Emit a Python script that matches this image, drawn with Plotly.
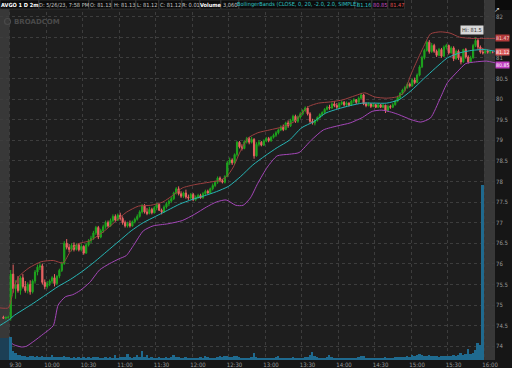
import plotly.graph_objects as go

# ---------------- data ----------------
tick_minutes = [0, 30, 60, 90, 120, 150, 180, 210, 240, 270, 300, 330, 360, 390]
time_labels = ["9:30", "10:00", "10:30", "11:00", "11:30", "12:00", "12:30",
               "13:00", "13:30", "14:00", "14:30", "15:00", "15:30", "16:00"]
price_ticks = [74, 74.5, 75, 75.5, 76, 76.5, 77, 77.5, 78, 78.5, 79, 79.5, 80, 80.5, 81, 81.5, 82]
# 81.5 label is hidden under the price tag in the original
price_tick_text = ["74", "74.5", "75", "75.5", "76", "76.5", "77", "77.5", "78", "78.5",
                   "79", "79.5", "80", "80.5", "81", "", "82"]

# regular-session 2-minute candles (9:30 .. 15:58), minutes since 9:30 = candle start
bar_minutes = list(range(0, 390, 2))
opens = [
    74.70, 75.75, 75.40, 75.50, 75.35, 75.66, 75.45, 75.35, 75.50, 75.32, 75.58, 75.80, 75.92, 75.95, 75.55,
    75.45, 75.52, 75.58, 75.66, 75.52, 75.70, 75.84, 76.00, 76.50, 76.40, 76.35, 76.45, 76.35, 76.46, 76.34,
    76.42, 76.26, 76.46, 76.56, 76.62, 76.75, 76.88, 76.65, 76.80, 76.90, 77.00, 76.92, 77.05, 77.15, 77.06,
    77.18, 77.10, 77.00, 76.92, 76.98, 76.92, 77.02, 77.08, 77.15, 77.26, 77.40, 77.26, 77.22, 77.32, 77.24,
    77.36, 77.44, 77.30, 77.26, 77.38, 77.46, 77.52, 77.58, 77.72, 77.82, 77.70, 77.64, 77.72, 77.62, 77.60,
    77.68, 77.56, 77.62, 77.66, 77.60, 77.70, 77.76, 77.72, 77.82, 77.90, 77.98, 78.08, 78.02, 77.98, 78.12,
    78.45, 78.52, 78.45, 78.65, 78.95, 78.84, 78.80, 78.96, 79.04, 78.95, 79.02, 78.62, 78.90, 78.95, 78.88,
    78.98, 79.04, 78.99, 79.07, 79.12, 79.18, 79.25, 79.32, 79.26, 79.42, 79.35, 79.48, 79.58, 79.46, 79.56,
    79.64, 79.72, 79.78, 79.64, 79.46, 79.42, 79.48, 79.55, 79.62, 79.67, 79.75, 79.80, 79.78, 79.88, 79.84,
    79.80, 79.88, 79.92, 79.86, 79.90, 79.85, 79.95, 79.98, 79.92, 80.02, 80.10, 79.88, 79.84, 79.88, 79.82,
    79.86, 79.80, 79.86, 79.80, 79.85, 79.72, 79.82, 79.80, 79.86, 79.95, 80.04, 80.14, 80.22, 80.28, 80.36,
    80.32, 80.46, 80.40, 80.58, 80.78, 81.00, 81.18, 81.38, 81.15, 81.30, 81.16, 81.06, 81.20, 81.04, 81.26,
    81.30, 81.12, 81.24, 80.98, 81.16, 81.00, 80.90, 81.20, 81.02, 80.90, 81.00, 81.30, 81.42, 81.26, 81.14,
]
highs = [
    75.85, 75.98, 75.60, 75.70, 75.70, 75.75, 75.58, 75.55, 75.60, 75.62, 75.85, 75.98, 76.02, 76.00, 75.62,
    75.58, 75.62, 75.70, 75.75, 75.72, 75.88, 76.05, 76.55, 76.60, 76.48, 76.50, 76.52, 76.50, 76.50, 76.50,
    76.45, 76.50, 76.60, 76.68, 76.80, 76.92, 76.92, 76.85, 76.95, 77.05, 77.05, 77.10, 77.20, 77.20, 77.22,
    77.24, 77.15, 77.05, 77.02, 77.05, 77.05, 77.12, 77.20, 77.30, 77.45, 77.45, 77.35, 77.38, 77.36, 77.40,
    77.48, 77.46, 77.34, 77.42, 77.50, 77.56, 77.62, 77.75, 77.86, 77.88, 77.76, 77.75, 77.80, 77.68, 77.72,
    77.72, 77.66, 77.70, 77.70, 77.74, 77.80, 77.80, 77.85, 77.95, 78.02, 78.12, 78.12, 78.06, 78.15, 78.50,
    78.58, 78.56, 78.68, 78.98, 78.98, 78.90, 79.00, 79.08, 79.08, 79.08, 79.05, 78.95, 79.00, 78.98, 79.02,
    79.08, 79.08, 79.10, 79.16, 79.22, 79.28, 79.36, 79.38, 79.45, 79.48, 79.52, 79.62, 79.62, 79.60, 79.68,
    79.75, 79.82, 79.82, 79.68, 79.52, 79.50, 79.58, 79.65, 79.70, 79.78, 79.84, 79.86, 79.92, 79.95, 79.90,
    79.92, 79.96, 79.95, 79.94, 79.92, 79.98, 80.02, 80.00, 80.06, 80.15, 80.12, 79.92, 79.92, 79.90, 79.90,
    79.88, 79.90, 79.88, 79.88, 79.86, 79.86, 79.86, 79.90, 79.98, 80.08, 80.16, 80.25, 80.32, 80.40, 80.40,
    80.50, 80.52, 80.62, 80.82, 81.05, 81.22, 81.42, 81.43, 81.36, 81.34, 81.20, 81.24, 81.24, 81.30, 81.34,
    81.32, 81.28, 81.28, 81.20, 81.20, 81.04, 81.22, 81.24, 81.06, 81.05, 81.34, 81.50, 81.46, 81.30, 81.24,
]
lows = [
    74.62, 75.30, 75.15, 75.30, 75.25, 75.40, 75.30, 75.28, 75.25, 75.28, 75.52, 75.72, 75.85, 75.50, 75.38,
    75.40, 75.46, 75.52, 75.45, 75.48, 75.65, 75.80, 75.98, 76.35, 76.28, 76.30, 76.30, 76.32, 76.30, 76.30,
    76.22, 76.24, 76.42, 76.50, 76.58, 76.70, 76.60, 76.62, 76.75, 76.85, 76.88, 76.90, 77.00, 77.02, 77.04,
    77.05, 76.95, 76.88, 76.88, 76.88, 76.90, 76.98, 77.05, 77.12, 77.22, 77.22, 77.18, 77.20, 77.20, 77.22,
    77.30, 77.28, 77.20, 77.24, 77.34, 77.40, 77.48, 77.55, 77.68, 77.66, 77.60, 77.60, 77.58, 77.55, 77.56,
    77.52, 77.52, 77.58, 77.58, 77.58, 77.66, 77.70, 77.70, 77.78, 77.86, 77.94, 77.98, 77.95, 77.95, 78.10,
    78.40, 78.40, 78.42, 78.60, 78.80, 78.75, 78.78, 78.92, 78.90, 78.92, 78.55, 78.60, 78.85, 78.85, 78.86,
    78.95, 78.95, 78.96, 79.04, 79.08, 79.14, 79.22, 79.22, 79.24, 79.30, 79.32, 79.45, 79.42, 79.42, 79.52,
    79.60, 79.68, 79.60, 79.42, 79.38, 79.36, 79.45, 79.52, 79.58, 79.64, 79.72, 79.74, 79.76, 79.80, 79.76,
    79.78, 79.85, 79.82, 79.83, 79.82, 79.83, 79.90, 79.88, 79.90, 80.00, 79.85, 79.80, 79.82, 79.78, 79.80,
    79.78, 79.78, 79.78, 79.78, 79.66, 79.70, 79.76, 79.78, 79.84, 79.92, 80.00, 80.10, 80.18, 80.25, 80.28,
    80.30, 80.36, 80.38, 80.55, 80.75, 80.96, 81.15, 81.10, 81.12, 81.12, 81.02, 81.04, 81.00, 81.02, 81.20,
    81.08, 81.10, 80.92, 80.95, 80.95, 80.84, 80.88, 80.98, 80.86, 80.88, 80.98, 81.26, 81.20, 81.10, 81.08,
]
closes = [
    75.75, 75.40, 75.50, 75.35, 75.66, 75.45, 75.35, 75.50, 75.32, 75.58, 75.80, 75.92, 75.95, 75.55, 75.45,
    75.52, 75.58, 75.66, 75.52, 75.70, 75.84, 76.00, 76.50, 76.40, 76.35, 76.45, 76.35, 76.46, 76.34, 76.42,
    76.26, 76.46, 76.56, 76.62, 76.75, 76.88, 76.65, 76.80, 76.90, 77.00, 76.92, 77.05, 77.15, 77.06, 77.18,
    77.10, 77.00, 76.92, 76.98, 76.92, 77.02, 77.08, 77.15, 77.26, 77.40, 77.26, 77.22, 77.32, 77.24, 77.36,
    77.44, 77.30, 77.26, 77.38, 77.46, 77.52, 77.58, 77.72, 77.82, 77.70, 77.64, 77.72, 77.62, 77.60, 77.68,
    77.56, 77.62, 77.66, 77.60, 77.70, 77.76, 77.72, 77.82, 77.90, 77.98, 78.08, 78.02, 77.98, 78.12, 78.45,
    78.52, 78.45, 78.65, 78.95, 78.84, 78.80, 78.96, 79.04, 78.95, 79.02, 78.62, 78.90, 78.95, 78.88, 78.98,
    79.04, 78.99, 79.07, 79.12, 79.18, 79.25, 79.32, 79.26, 79.42, 79.35, 79.48, 79.58, 79.46, 79.56, 79.64,
    79.72, 79.78, 79.64, 79.46, 79.42, 79.48, 79.55, 79.62, 79.67, 79.75, 79.80, 79.78, 79.88, 79.84, 79.80,
    79.88, 79.92, 79.86, 79.90, 79.85, 79.95, 79.98, 79.92, 80.02, 80.10, 79.88, 79.84, 79.88, 79.82, 79.86,
    79.80, 79.86, 79.80, 79.85, 79.72, 79.82, 79.80, 79.86, 79.95, 80.04, 80.14, 80.22, 80.28, 80.36, 80.32,
    80.46, 80.40, 80.58, 80.78, 81.00, 81.18, 81.38, 81.15, 81.30, 81.16, 81.06, 81.20, 81.04, 81.26, 81.30,
    81.12, 81.24, 80.98, 81.16, 81.00, 80.90, 81.20, 81.02, 80.90, 81.00, 81.30, 81.42, 81.26, 81.14, 81.12,
]
volumes_k = [
    460, 180, 140, 100, 100, 80, 80, 60, 80, 80, 60, 80, 60, 80, 60,
    60, 60, 100, 60, 60, 60, 60, 80, 60, 60, 40, 60, 40, 60, 40,
    60, 40, 60, 40, 60, 60, 60, 40, 40, 60, 40, 60, 40, 100, 40,
    60, 60, 60, 120, 60, 40, 60, 100, 60, 180, 60, 100, 40, 60, 40,
    40, 60, 40, 40, 60, 40, 60, 100, 60, 60, 40, 40, 60, 40, 40,
    40, 40, 40, 60, 40, 80, 60, 40, 40, 40, 60, 80, 60, 80, 80,
    60, 60, 80, 80, 60, 40, 40, 40, 40, 60, 140, 60, 40, 40, 40,
    40, 40, 40, 40, 60, 80, 40, 40, 40, 40, 40, 60, 40, 40, 40,
    40, 60, 60, 100, 160, 80, 60, 40, 40, 40, 60, 100, 60, 40, 40,
    40, 40, 40, 40, 40, 40, 40, 40, 60, 80, 80, 40, 40, 40, 40,
    40, 40, 40, 40, 60, 40, 40, 40, 60, 60, 60, 60, 60, 80, 60,
    100, 80, 100, 120, 100, 80, 80, 100, 80, 80, 80, 60, 80, 80, 80,
    80, 80, 100, 80, 100, 140, 100, 120, 220, 120, 140, 200, 340, 300, 3500,
]

# extended-hours candles
pre_minutes = [-6, -4, -2]
pre_open = [74.70, 74.68, 74.70]
pre_high = [74.74, 74.72, 74.74]
pre_low = [74.66, 74.65, 74.67]
pre_close = [74.68, 74.70, 74.70]
pre_volume_minutes = [-8, -6, -4, -2]
pre_volumes_k = [440, 440, 440, 440]
post_minutes = [390, 392, 394, 396]
post_open = [81.12, 81.16, 81.14, 81.13]
post_high = [81.22, 81.20, 81.18, 81.16]
post_low = [81.10, 81.10, 81.10, 81.11]
post_close = [81.16, 81.14, 81.15, 81.13]

# Bollinger bands (CLOSE, 20, +/-2.0)
upper_t = [-8, -1, 2, 4, 8, 16, 26, 36, 44, 50, 56, 66, 76, 86, 96, 106, 116, 126, 136, 142, 152, 162,
           172, 178, 184, 190, 196, 204, 214, 224, 234, 240, 246, 254, 264, 274, 284, 292, 300, 310, 318,
           324, 330, 336, 340, 346, 354, 362, 370, 380, 392, 399]
upper_v = [74.93, 74.93, 75.20, 75.45, 75.70, 75.90, 76.05, 76.08, 76.02, 76.30, 76.48, 76.56, 76.75,
           77.00, 77.25, 77.40, 77.42, 77.50, 77.70, 77.84, 77.92, 77.97, 78.02, 78.10, 78.35, 78.75,
           79.05, 79.18, 79.25, 79.32, 79.45, 79.65, 79.82, 79.90, 79.93, 79.98, 80.08, 80.15, 80.05,
           80.02, 80.05, 80.15, 80.60, 81.00, 81.25, 81.58, 81.63, 81.60, 81.50, 81.47, 81.47, 81.47]
mid_t = [-8, 0, 4, 12, 20, 30, 40, 50, 60, 70, 80, 90, 100, 110, 120, 130, 140, 150, 160, 170, 180,
         190, 200, 210, 220, 230, 240, 250, 260, 270, 280, 290, 300, 310, 320, 330, 340, 350, 360, 370,
         380, 390, 399]
mid_v = [74.50, 74.65, 74.75, 74.90, 75.05, 75.25, 75.45, 75.62, 75.82, 76.05, 76.30, 76.55, 76.80,
         77.00, 77.15, 77.30, 77.45, 77.56, 77.65, 77.75, 77.88, 78.12, 78.40, 78.62, 78.82, 79.00,
         79.30, 79.45, 79.66, 79.76, 79.84, 79.90, 79.90, 79.90, 79.98, 80.20, 80.48, 80.75, 81.00,
         81.12, 81.18, 81.20, 81.16]
lower_t = [-8, -4, 0, 4, 10, 14, 20, 28, 36, 40, 46, 52, 58, 66, 74, 82, 90, 96, 102, 110, 118, 130,
           142, 152, 162, 170, 178, 186, 192, 198, 204, 212, 220, 230, 238, 248, 258, 270, 280, 290, 298,
           306, 314, 320, 330, 338, 346, 354, 360, 368, 375, 383, 392, 399]
lower_v = [74.10, 74.14, 74.10, 74.03, 73.98, 74.00, 74.12, 74.30, 74.50, 75.00, 75.20, 75.25, 75.35,
           75.55, 75.85, 76.00, 76.12, 76.20, 76.45, 76.80, 76.92, 76.97, 77.05, 77.20, 77.38, 77.50,
           77.55, 77.42, 77.42, 77.60, 77.95, 78.35, 78.62, 78.66, 78.70, 79.00, 79.25, 79.35, 79.42,
           79.55, 79.70, 79.73, 79.68, 79.62, 79.50, 79.44, 79.54, 80.02, 80.40, 80.66, 80.86, 80.90,
           80.92, 80.88]

# header strip texts
header_items = [
    ("AVGO 1 D 2m", "#ffffff", True),
    ("D: 5/26/23, 7:58 PM", "#c8c8c8", False),
    ("O: 81.13", "#c8c8c8", False),
    ("H: 81.13", "#c8c8c8", False),
    ("L: 81.12", "#c8c8c8", False),
    ("C: 81.12", "#c8c8c8", False),
    ("R: 0.01", "#c8c8c8", False),
    ("Volume", "#ffffff", True),
    ("3,060", "#c8c8c8", False),
    ("BollingerBands (CLOSE, 0, 20, -2.0, 2.0, SIMPLE)", "#2fc4c4", False),
    ("81.16", "#2fc4c4", False),
    ("80.85", "#c44cc4", False),
    ("81.47", "#e05050", False),
]
header_edges = [0, 39, 89, 112, 136, 159, 182, 200, 221, 239, 355, 372, 388, 405]

# ---------------- figure ----------------
W, H = 512, 368
ML, MR, MT, MB = 0, 17, 0, 8
PW, PH = W - ML - MR, H - MT - MB
XR = [-7.8, 399.0]
YR = [73.665, 82.403]
FONT = "Liberation Sans Narrow, DejaVu Sans Condensed, Arial Narrow, sans-serif"


def px_x(px):
    return px / PW


def px_y(py):
    return 1 - py / PH


fig = go.Figure()

# volume (own hidden scale)
bar_centers = [m + 1 for m in bar_minutes]
fig.add_trace(go.Bar(x=[m + 1 for m in pre_volume_minutes], y=pre_volumes_k, width=2, yaxis="y2",
                     marker=dict(color="#1c3f55", line=dict(width=0)), showlegend=False))
fig.add_trace(go.Bar(x=bar_centers, y=volumes_k, width=1.6, yaxis="y2",
                     marker=dict(color="#1f6a8f", line=dict(width=0)), showlegend=False))

# bands
fig.add_trace(go.Scatter(x=lower_t, y=lower_v, mode="lines",
                         line=dict(color="#a446b8", width=1, shape="spline", smoothing=0.6),
                         showlegend=False))
fig.add_trace(go.Scatter(x=mid_t, y=mid_v, mode="lines",
                         line=dict(color="#26b5b5", width=1, shape="spline", smoothing=0.6),
                         showlegend=False))
fig.add_trace(go.Scatter(x=upper_t, y=upper_v, mode="lines",
                         line=dict(color="#9c4040", width=1, shape="spline", smoothing=0.6),
                         showlegend=False))

# candles
cx = [m + 1 for m in pre_minutes] + bar_centers + [m + 1 for m in post_minutes]
fig.add_trace(go.Candlestick(
    x=cx,
    open=pre_open + opens + post_open,
    high=pre_high + highs + post_high,
    low=pre_low + lows + post_low,
    close=pre_close + closes + post_close,
    increasing=dict(line=dict(color="#1ea51e", width=1), fillcolor="#1ea51e"),
    decreasing=dict(line=dict(color="#ec6464", width=1), fillcolor="#ec6464"),
    whiskerwidth=0, showlegend=False))

shapes = [
    dict(type="rect", xref="x", yref="paper", x0=XR[0], x1=0, y0=0, y1=1,
         fillcolor="#383838", line=dict(width=0), layer="below"),
    dict(type="rect", xref="x", yref="paper", x0=390, x1=XR[1], y0=0, y1=1,
         fillcolor="#383838", line=dict(width=0), layer="below"),
    # watermark logo ring
    dict(type="circle", xref="paper", yref="paper", x0=px_x(4.5), x1=px_x(10.5),
         y0=px_y(24.5), y1=px_y(18.5), line=dict(color="#4a4a4a", width=1.2)),
]
annotations = []

# header strip
for (txt, col, bold), x0, x1 in zip(header_items, header_edges[:-1], header_edges[1:]):
    shapes.append(dict(type="rect", xref="paper", yref="paper", x0=px_x(x0), x1=px_x(x1 - 0.5),
                       y0=px_y(9), y1=px_y(0), fillcolor="#0c0c0c",
                       line=dict(color="#333333", width=0.8), layer="above"))
    annotations.append(dict(xref="paper", yref="paper", x=px_x((x0 + x1) / 2), y=px_y(4.6),
                            text=f"<b>{txt}</b>" if bold else txt, showarrow=False,
                            xanchor="center", yanchor="middle",
                            font=dict(family=FONT, size=5.6, color=col)))
shapes.append(dict(type="rect", xref="paper", yref="paper", x0=px_x(495), x1=px_x(512),
                   y0=px_y(10), y1=px_y(0), fillcolor="#0c0c0c", line=dict(width=0), layer="above"))
annotations.append(dict(xref="paper", yref="paper", x=px_x(502), y=px_y(4.5), text="↗",
                        showarrow=False, font=dict(family="DejaVu Sans", size=7, color="#dddddd")))

# watermark
annotations.append(dict(xref="paper", yref="paper", x=px_x(12), y=px_y(21.5), text="<b>BROADCOM</b>",
                        showarrow=False, xanchor="left", yanchor="middle",
                        font=dict(family="DejaVu Sans", size=7, color="#4a4a4a")))

# high bubble
annotations.append(dict(xref="x", yref="y", x=383, y=81.5, text="Hi: 81.5", showarrow=False,
                        xanchor="center", yanchor="bottom", yshift=2, xshift=-4,
                        bgcolor="#d8d8d8", borderpad=1,
                        font=dict(family=FONT, size=5.6, color="#333333")))

# price tags on axis
for val, bg, fg, ys in [("81.47", "#b23a3a", "#f5d5d5", 0), ("80.85", "#c03ec0", "#ffffff", -1.5),
                        ("81.12", "#d95b5b", "#ffffff", 1)]:
    annotations.append(dict(xref="paper", yref="y", x=1.0, y=float(val), text=val, showarrow=False,
                            xanchor="left", yanchor="middle", bgcolor=bg, borderpad=0, yshift=ys,
                            font=dict(family=FONT, size=5.2, color=fg)))

fig.update_layout(
    template="none",
    width=W, height=H, autosize=False,
    margin=dict(l=ML, r=MR, t=MT, b=MB, pad=0),
    paper_bgcolor="#161616", plot_bgcolor="#1e1e1e",
    showlegend=False, bargap=0,
    xaxis=dict(range=XR, tickvals=tick_minutes, ticktext=time_labels, showgrid=True,
               gridcolor="#3d3d3d", griddash="dot", gridwidth=1, zeroline=False, showline=False,
               ticks="", ticklabelshift=6, ticklabelstandoff=0, automargin=False,
               rangeslider=dict(visible=False),
               tickfont=dict(family=FONT, size=6, color="#9a9a9a")),
    yaxis=dict(range=YR, side="right", tickvals=price_ticks, ticktext=price_tick_text,
               showgrid=True, gridcolor="#3d3d3d", griddash="dot", gridwidth=1, zeroline=False,
               showline=False, ticks="", automargin=False,
               tickfont=dict(family=FONT, size=6, color="#9a9a9a")),
    yaxis2=dict(range=[0, 7200], overlaying="y", visible=False, showgrid=False),
    shapes=shapes, annotations=annotations,
)

fig.write_html("out.html", config={"displayModeBar": False},
               post_script="document.body.style.margin='0px';document.body.style.overflow='hidden';")
